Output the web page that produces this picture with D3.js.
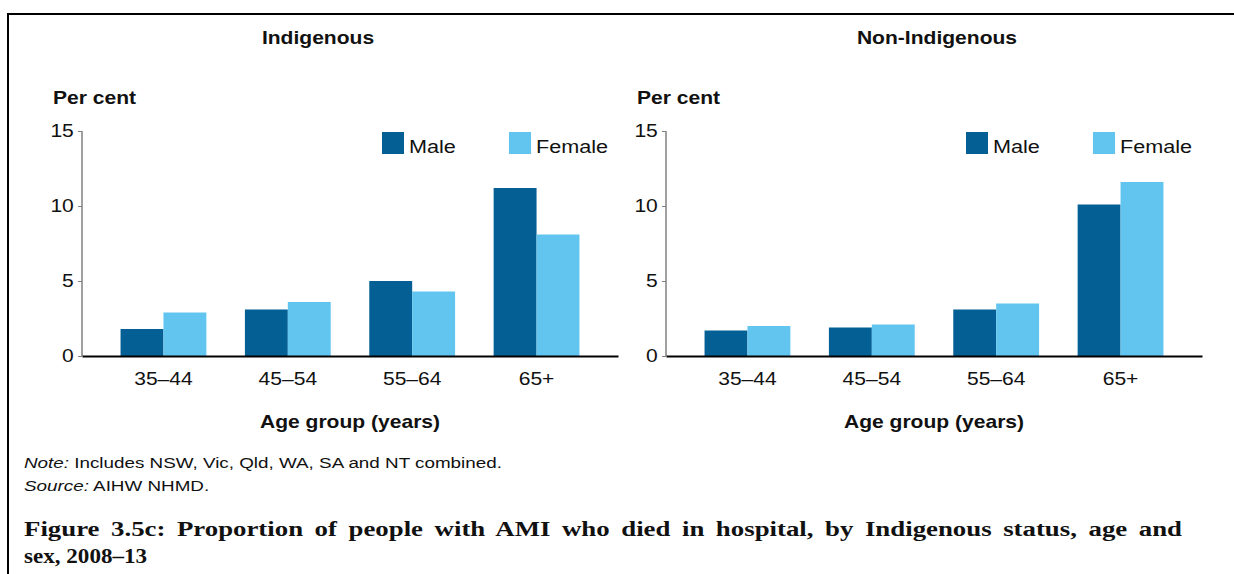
<!DOCTYPE html>
<html>
<head>
<meta charset="utf-8">
<script src="https://cdn.jsdelivr.net/npm/d3@7"></script>
<style>
  body { margin: 0; background: #fff; }
  text { font-family: "Liberation Sans", Arial, sans-serif; fill: #111; }
</style>
</head>
<body>
<svg id="chart"></svg>
<script>
var ageGroups = ["35\u201344", "45\u201354", "55\u201364", "65+"];
var sexes = ["Male", "Female"];
var yTicks = [0, 5, 10, 15];

// per cent who died in hospital
var indigenousMale = [1.8, 3.1, 5.0, 11.2];
var indigenousFemale = [2.9, 3.6, 4.3, 8.1];
var nonIndigenousMale = [1.7, 1.9, 3.1, 10.1];
var nonIndigenousFemale = [2.0, 2.1, 3.5, 11.6];

var panels = [
    {title: "Indigenous", titleX: 318, left: 82, male: indigenousMale, female: indigenousFemale},
    {title: "Non-Indigenous", titleX: 937, left: 666, male: nonIndigenousMale, female: nonIndigenousFemale}
];

var colors = {Male: "#035f94", Female: "#62c5f0"};

var width = 1234, height = 574;
var plotW = 536;
var y0 = 356, y15 = 131;
var stretch = 1.17; // the sans text in the figure is a bit wide

const svg = d3.select("#chart")
    .attr("width", width)
    .attr("height", height);

// frame
svg.append("path")
    .attr("d", "M8,574 V14 H1234")
    .attr("fill", "none")
    .attr("stroke", "#000")
    .attr("stroke-width", 2);

var y = d3.scaleLinear().domain([0, 15]).range([y0, y15]);

function wideText(sel, x, yy, s) {
    return sel.append("text")
        .attr("transform", "translate(" + x + "," + yy + ") scale(" + (s || stretch) + ",1)");
}

panels.forEach(p => {
    var g = svg.append("g");

    var x = d3.scaleBand()
        .domain(ageGroups)
        .range([p.left, p.left + plotW])
        .paddingInner(0.31)
        .paddingOuter(0.31);

    var xs = d3.scaleBand()
        .domain(sexes)
        .range([0, x.bandwidth()]);

    wideText(g, p.titleX, 44)
        .attr("text-anchor", "middle")
        .attr("font-weight", "bold")
        .attr("font-size", 18)
        .text(p.title);

    wideText(g, p.left - 29, 104)
        .attr("font-weight", "bold")
        .attr("font-size", 18)
        .text("Per cent");

    // bars
    ageGroups.forEach((a, i) => {
        var vals = [p.male[i], p.female[i]];
        g.append("g")
            .selectAll("rect")
            .data(sexes)
            .join("rect")
            .attr("x", s => x(a) + xs(s))
            .attr("y", (s, j) => y(vals[j]))
            .attr("width", xs.bandwidth())
            .attr("height", (s, j) => y(0) - y(vals[j]))
            .attr("fill", s => colors[s]);
    });

    // y axis
    var yAxis = g.append("g")
        .attr("transform", "translate(" + p.left + ",0)")
        .call(d3.axisLeft(y).tickValues(yTicks).tickSize(4).tickPadding(3));
    yAxis.select(".domain").attr("stroke", "#808080").attr("stroke-width", 1.5).attr("d", "M0," + y15 + "V" + y0);
    yAxis.selectAll(".tick line").attr("stroke", "#808080");
    yAxis.selectAll(".tick text")
        .attr("font-size", 18)
        .attr("font-family", "Liberation Sans, Arial, sans-serif")
        .attr("fill", "#111")
        .attr("transform", "scale(" + stretch + ",1)");

    // x axis
    var xAxis = g.append("g")
        .attr("transform", "translate(0," + y0 + ")")
        .call(d3.axisBottom(x).tickSize(0).tickPadding(16));
    xAxis.select(".domain").attr("stroke", "#000").attr("stroke-width", 2);
    xAxis.selectAll(".tick text")
        .attr("font-size", 18)
        .attr("font-family", "Liberation Sans, Arial, sans-serif")
        .attr("fill", "#111")
        .attr("transform", "scale(" + stretch + ",1)");

    wideText(g, p.left + plotW / 2, 428)
        .attr("text-anchor", "middle")
        .attr("font-weight", "bold")
        .attr("font-size", 18)
        .text("Age group (years)");

    // legend
    var lg = g.append("g")
        .selectAll("g")
        .data(sexes)
        .join("g")
        .attr("transform", (s, i) => "translate(" + (p.left + 300 + i * 127) + ",132)");
    lg.append("rect")
        .attr("width", 22)
        .attr("height", 22)
        .attr("fill", s => colors[s]);
    lg.append("text")
        .attr("transform", "translate(27,21) scale(" + stretch + ",1)")
        .attr("font-size", 18.5)
        .text(s => s);
});

// notes
var n1 = wideText(svg, 24, 468, 1.3).attr("font-size", 14.5);
n1.append("tspan").attr("font-style", "italic").text("Note:");
n1.append("tspan").text(" Includes NSW, Vic, Qld, WA, SA and NT combined.");
var n2 = wideText(svg, 24, 491, 1.3).attr("font-size", 14.5);
n2.append("tspan").attr("font-style", "italic").text("Source:");
n2.append("tspan").text(" AIHW NHMD.");

var captionLines = [
    "Figure 3.5c: Proportion of people with AMI who died in hospital, by Indigenous status, age and",
    "sex, 2008\u201313"
];
var capStretch = [1.22, 1.05];
var caption = svg.append("g")
    .selectAll("text")
    .data(captionLines)
    .join("text")
    .attr("transform", (d, i) => "translate(24," + (536 + i * 27) + ") scale(" + capStretch[i] + ",1)")
    .attr("font-weight", "bold")
    .attr("font-size", 22)
    .style("font-family", "'Liberation Serif', 'Times New Roman', serif")
    .text(d => d);

// first line is justified to the full text width
caption.filter((d, i) => i === 0).each(function(d) {
    var natural = this.getComputedTextLength();
    var gaps = d.split(" ").length - 1;
    d3.select(this).attr("word-spacing", Math.max(0, (1158 / capStretch[0] - natural) / gaps));
});
</script>
</body>
</html>
